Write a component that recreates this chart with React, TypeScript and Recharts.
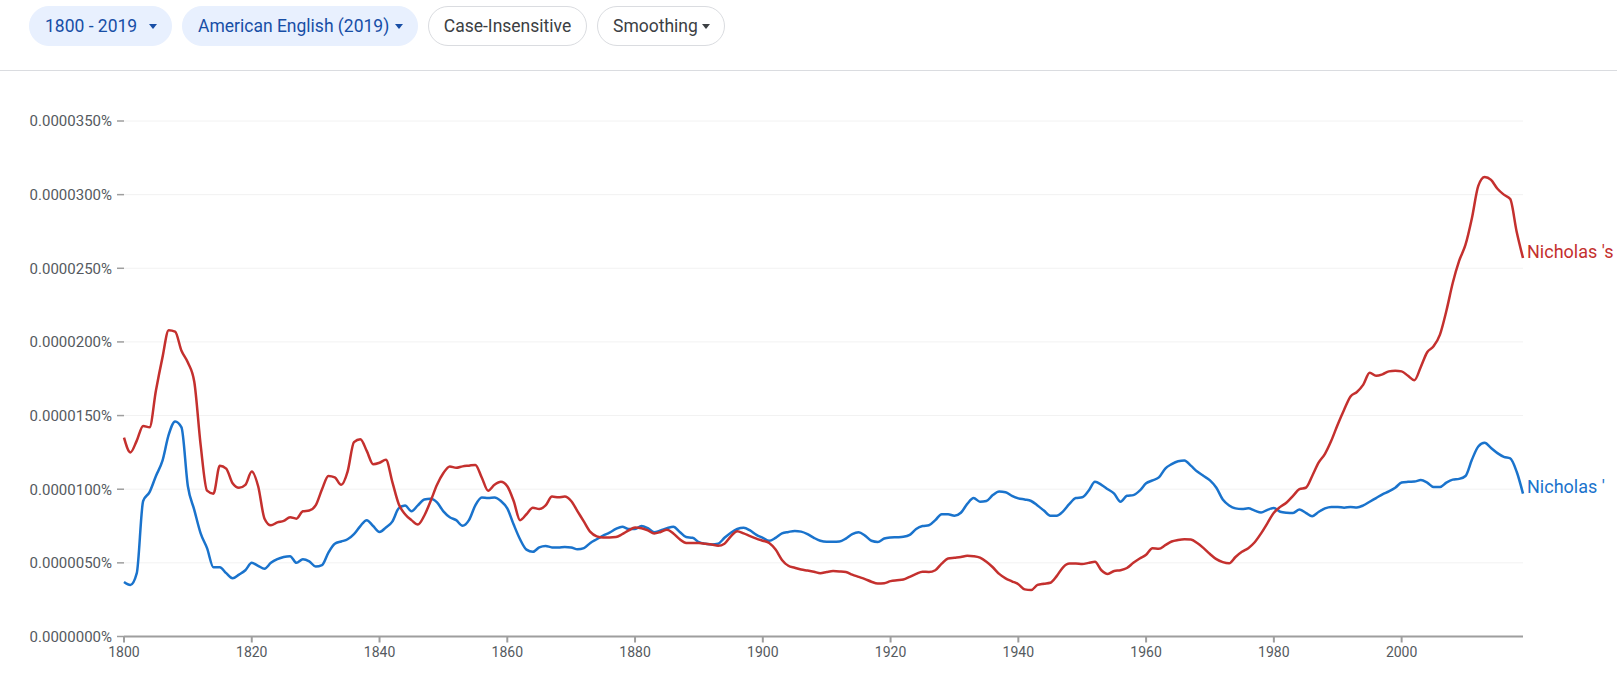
import { CartesianGrid, Line, LineChart, XAxis, YAxis } from "recharts";

// values in units of 0.000001 %
const YEARS = Array.from({ length: 220 }, (_, i) => 1800 + i);

const NICHOLAS_S = [
  13.5, 12.5, 13.3, 14.3, 14.2, 16.7, 18.9, 20.8, 20.7, 19.4,
  18.6, 17.3, 13.0, 9.9, 9.7, 11.6, 11.4, 10.4, 10.1, 10.3,
  11.2, 10.2, 8.0, 7.55, 7.75, 7.85, 8.1, 8.0, 8.5, 8.55,
  8.9, 10.0, 10.9, 10.8, 10.3, 11.2, 13.2, 13.4, 12.6, 11.7,
  11.8, 12.0, 10.5, 9.0, 8.3, 7.9, 7.6, 8.2, 9.2, 10.3,
  11.1, 11.55, 11.45, 11.55, 11.6, 11.65, 10.8, 9.9, 10.3, 10.5,
  10.2, 9.2, 7.9, 8.3, 8.75, 8.65, 8.9, 9.5, 9.45, 9.5,
  9.2, 8.5, 7.8, 7.1, 6.8, 6.72, 6.72, 6.75, 6.95, 7.2,
  7.4, 7.35, 7.2, 7.0, 7.1, 7.25, 7.0, 6.6, 6.35, 6.35,
  6.35, 6.3, 6.25, 6.16, 6.3, 6.8, 7.15, 7.0, 6.82, 6.65,
  6.5, 6.35, 5.9, 5.2, 4.8, 4.67, 4.55, 4.48, 4.4, 4.3,
  4.38, 4.44, 4.42, 4.38, 4.2, 4.05, 3.9, 3.72, 3.6, 3.62,
  3.76, 3.82, 3.87, 4.05, 4.25, 4.4, 4.38, 4.5, 4.95, 5.3,
  5.35, 5.4, 5.48, 5.45, 5.35, 5.07, 4.7, 4.25, 3.95, 3.75,
  3.55, 3.2, 3.15, 3.5, 3.58, 3.65, 4.1, 4.7, 4.95, 4.95,
  4.92, 5.0, 5.07, 4.5, 4.25, 4.45, 4.5, 4.65, 5.0, 5.3,
  5.55, 6.0, 5.95, 6.2, 6.45, 6.55, 6.6, 6.58, 6.35, 6.0,
  5.6, 5.25, 5.05, 4.97, 5.4, 5.75, 6.0, 6.4, 7.0, 7.7,
  8.4, 8.8, 9.1, 9.55, 10.0, 10.1, 10.9, 11.8, 12.4, 13.3,
  14.4, 15.4, 16.3, 16.6, 17.1, 17.9, 17.7, 17.8, 18.0, 18.05,
  18.0, 17.7, 17.4, 18.3, 19.3, 19.7, 20.5, 22.1, 24.0, 25.5,
  26.6, 28.4, 30.6, 31.2, 31.0, 30.4, 30.0, 29.7, 27.5, 25.7,
];

const NICHOLAS_APOS = [
  3.7, 3.5, 4.3, 9.2, 9.8, 10.9, 11.9, 13.7, 14.6, 14.2,
  10.2, 8.6, 7.0, 6.0, 4.7, 4.7, 4.3, 3.95, 4.2, 4.5,
  5.0, 4.8, 4.6, 5.0, 5.25, 5.4, 5.45, 5.0, 5.25, 5.1,
  4.75, 4.85, 5.7, 6.3, 6.45, 6.6, 6.95, 7.5, 7.9, 7.5,
  7.1, 7.4, 7.8, 8.7, 8.9, 8.5, 8.9, 9.3, 9.35, 9.1,
  8.5, 8.1, 7.9, 7.52, 7.9, 8.9, 9.44, 9.4, 9.44, 9.2,
  8.7, 7.6, 6.6, 5.9, 5.75, 6.05, 6.15, 6.05, 6.05, 6.08,
  6.05, 5.92, 6.0, 6.35, 6.6, 6.85, 7.05, 7.3, 7.45, 7.3,
  7.3, 7.5, 7.35, 7.08, 7.2, 7.35, 7.45, 7.1, 6.75, 6.7,
  6.4, 6.3, 6.25, 6.3, 6.7, 7.05, 7.3, 7.38, 7.2, 6.9,
  6.7, 6.5, 6.7, 7.0, 7.1, 7.17, 7.12, 6.95, 6.7, 6.5,
  6.43, 6.43, 6.45, 6.65, 6.95, 7.07, 6.85, 6.5, 6.42, 6.65,
  6.72, 6.74, 6.77, 6.9, 7.3, 7.5, 7.55, 7.9, 8.3, 8.3,
  8.2, 8.4, 9.0, 9.4, 9.15, 9.2, 9.6, 9.85, 9.8, 9.55,
  9.38, 9.3, 9.2, 8.9, 8.55, 8.2, 8.2, 8.5, 9.0, 9.4,
  9.45, 9.9, 10.5, 10.3, 10.0, 9.7, 9.15, 9.55, 9.6, 9.9,
  10.4, 10.6, 10.8, 11.4, 11.7, 11.9, 11.95, 11.6, 11.2, 10.9,
  10.6, 10.1, 9.3, 8.9, 8.7, 8.65, 8.7, 8.55, 8.42, 8.6,
  8.72, 8.47, 8.4, 8.38, 8.62, 8.4, 8.17, 8.45, 8.7, 8.8,
  8.8, 8.74, 8.8, 8.76, 8.9, 9.15, 9.4, 9.65, 9.85, 10.1,
  10.45, 10.5, 10.52, 10.62, 10.45, 10.15, 10.15, 10.45, 10.65, 10.7,
  10.9, 12.0, 12.9, 13.15, 12.8, 12.45, 12.2, 12.1, 11.2, 9.7,
];

const X_TICKS = [1800, 1820, 1840, 1860, 1880, 1900, 1920, 1940, 1960, 1980, 2000];
const Y_TICKS = [0, 5, 10, 15, 20, 25, 30, 35];

const RED = "#c4302e";
const BLUE = "#1a73cc";
const AXIS = "#9e9e9e";
const MUTE = "#555a60";

const data = YEARS.map((year, i) => ({ year, s: NICHOLAS_S[i], apos: NICHOLAS_APOS[i] }));

const formatPct = (v: number) => `${(v * 1e-6).toFixed(7)}%`;

function endLabel(text: string, color: string) {
  const last = YEARS.length - 1;
  return (props: any) => {
    if (props.index !== last) return null;
    return (
      <text x={props.x + 4} y={props.y - 5} fill={color} fontSize={18} dominantBaseline="middle">
        {text}
      </text>
    );
  };
}

function Chip({ label, width, filled, caret }: { label: string; width: number; filled?: boolean; caret?: boolean }) {
  const color = filled ? "#174ea6" : "#3c4043";
  return (
    <div
      style={{
        width,
        height: 40,
        boxSizing: "border-box",
        borderRadius: 20,
        background: filled ? "#e8f0fe" : "#fff",
        border: filled ? "1px solid #e8f0fe" : "1px solid #dadce0",
        color,
        display: "flex",
        alignItems: "center",
        justifyContent: caret ? "space-between" : "center",
        padding: caret ? "0 14px 0 15px" : 0,
        fontSize: 17.5,
      }}
    >
      <span>{label}</span>
      {caret && (
        <span
          style={{
            width: 0,
            height: 0,
            borderLeft: "4px solid transparent",
            borderRight: "4px solid transparent",
            borderTop: `5px solid ${color}`,
          }}
        />
      )}
    </div>
  );
}

export default function App() {
  return (
    <div
      style={{
        position: "absolute",
        top: 0,
        left: 0,
        width: 1617,
        height: 673,
        overflow: "hidden",
        background: "#fff",
        fontFamily: "Roboto, sans-serif",
      }}
    >
      <div
        style={{
          position: "absolute",
          top: 0,
          left: 0,
          width: 1617,
          height: 70,
          borderBottom: "1px solid #dadce0",
        }}
      >
        <div style={{ position: "absolute", top: 6, left: 29, display: "flex", gap: 10 }}>
          <Chip label="1800 - 2019" width={143} filled caret />
          <Chip label="American English (2019)" width={236} filled caret />
          <Chip label="Case-Insensitive" width={159} />
          <Chip label="Smoothing" width={128} caret />
        </div>
      </div>
      <div style={{ position: "absolute", top: 0, left: 0 }}>
        <LineChart
          width={1617}
          height={673}
          data={data}
          margin={{ top: 121, right: 94, bottom: 6.5, left: 0 }}
          style={{ fontFamily: "Roboto, sans-serif" }}
        >
          <CartesianGrid vertical={false} stroke="#f2f2f2" />
          <XAxis
            dataKey="year"
            type="number"
            domain={[1800, 2019]}
            ticks={X_TICKS}
            height={30}
            tickSize={6}
            tickMargin={5}
            axisLine={{ stroke: AXIS, strokeWidth: 2 }}
            tickLine={{ stroke: AXIS, strokeWidth: 2 }}
            tick={{ fill: MUTE, fontSize: 14 }}
          />
          <YAxis
            type="number"
            domain={[0, 35]}
            ticks={Y_TICKS}
            width={124}
            axisLine={false}
            tickSize={7}
            tickMargin={5}
            tickLine={{ stroke: AXIS, strokeWidth: 1.5 }}
            tick={{ fill: MUTE, fontSize: 15 }}
            tickFormatter={formatPct}
          />
          <Line
            dataKey="apos"
            type="monotone"
            stroke={BLUE}
            strokeWidth={2.5}
            dot={false}
            activeDot={false}
            isAnimationActive={false}
            label={endLabel("Nicholas '", BLUE)}
          />
          <Line
            dataKey="s"
            type="monotone"
            stroke={RED}
            strokeWidth={2.5}
            dot={false}
            activeDot={false}
            isAnimationActive={false}
            label={endLabel("Nicholas 's", RED)}
          />
        </LineChart>
      </div>
    </div>
  );
}
